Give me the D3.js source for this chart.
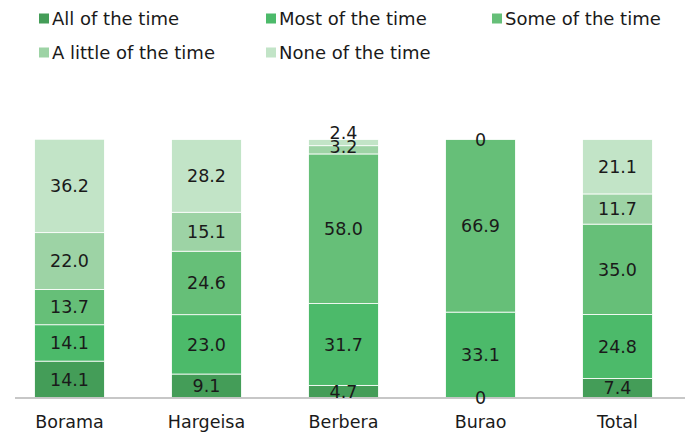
<!DOCTYPE html>
<html>
<head>
<meta charset="utf-8">
<script src="https://cdn.jsdelivr.net/npm/d3@7"></script>
<style>
  html, body { margin: 0; padding: 0; background: #fff; }
  svg { display: block; font-family: "DejaVu Sans", "Noto Sans", sans-serif; }
</style>
</head>
<body>
<svg id="chart" width="685" height="432"></svg>
<script>
// Frequency shares by location (percent)
const categories = ["Borama", "Hargeisa", "Berbera", "Burao", "Total"];
const seriesNames = ["All of the time", "Most of the time", "Some of the time", "A little of the time", "None of the time"];
const allOfTheTime    = [14.1, 9.1, 4.7, 0, 7.4];
const mostOfTheTime   = [14.1, 23.0, 31.7, 33.1, 24.8];
const someOfTheTime   = [13.7, 24.6, 58.0, 66.9, 35.0];
const littleOfTheTime = [22.0, 15.1, 3.2, 0, 11.7];
const noneOfTheTime   = [36.2, 28.2, 2.4, 0, 21.1];
const colors = ["#449d58", "#4cba6a", "#66bf78", "#9dd3a5", "#c2e4c7"];

const seriesValues = [allOfTheTime, mostOfTheTime, someOfTheTime, littleOfTheTime, noneOfTheTime];
const rows = categories.map((c, i) => {
  const r = { category: c };
  seriesNames.forEach((s, k) => { r[s] = seriesValues[k][i]; });
  return r;
});

const svg = d3.select("#chart");
const baseY = 397.5;

const x = d3.scaleBand().domain(categories).range([1, 686]).paddingInner(0.49).paddingOuter(0.245);
const y = d3.scaleLinear().domain([0, 100]).range([baseY, 139.5]);

const stacked = d3.stack().keys(seriesNames)(rows);

const layers = svg.append("g").selectAll("g")
  .data(stacked).join("g")
  .attr("fill", (d, i) => colors[i]);

layers.selectAll("rect")
  .data(d => d.filter(p => p[1] - p[0] > 0))
  .join("rect")
  .attr("x", d => x(d.data.category))
  .attr("width", x.bandwidth())
  .attr("y", d => y(d[1]))
  .attr("height", d => y(d[0]) - y(d[1]))
  .attr("stroke", "#fff")
  .attr("stroke-width", 0.8);

// axis baseline
svg.append("line")
  .attr("x1", 15).attr("x2", 685)
  .attr("y1", baseY + 0.5).attr("y2", baseY + 0.5)
  .attr("stroke", "#b5b5b5").attr("stroke-width", 1.5);

// segment value labels (zero slices stacked at one spot get a single label)
const labels = svg.append("g").attr("font-size", 17.5).attr("fill", "#1a1a1a").attr("text-anchor", "middle");
const used = new Set();
stacked.forEach((layer, k) => {
  layer.forEach(p => {
    const v = p[1] - p[0];
    const cx = x(p.data.category) + x.bandwidth() / 2;
    let cy = (y(p[0]) + y(p[1])) / 2;
    const name = p.data.category;
    // thin slices at the top of Berbera are labelled just above / on their slice
    if (name === "Berbera" && k === 4) cy = y(p[1]) - 7;
    if (name === "Berbera" && k === 3) cy -= 3.5;
    const key = Math.round(cx) + "," + Math.round(cy);
    if (v === 0 && used.has(key)) return;
    used.add(key);
    labels.append("text")
      .attr("x", cx)
      .attr("y", cy)
      .attr("dy", "0.36em")
      .text(v === 0 ? "0" : v.toFixed(1));
  });
});

// category axis labels
svg.append("g").attr("font-size", 17.5).attr("fill", "#1a1a1a").attr("text-anchor", "middle")
  .selectAll("text").data(categories).join("text")
  .attr("x", d => x(d) + x.bandwidth() / 2)
  .attr("y", 428)
  .text(d => d);

// legend
const legendPos = [[39, 18.5], [266, 18.5], [492, 18.5], [39, 52.5], [266, 52.5]];
const legend = svg.append("g").selectAll("g").data(seriesNames).join("g")
  .attr("transform", (d, i) => `translate(${legendPos[i][0]},${legendPos[i][1]})`);
legend.append("rect").attr("x", 0).attr("y", -5).attr("width", 10).attr("height", 10)
  .attr("fill", (d, i) => colors[i]);
legend.append("text").attr("x", 13).attr("y", 6)
  .attr("font-size", 18).attr("fill", "#1a1a1a").text(d => d);
</script>
</body>
</html>
